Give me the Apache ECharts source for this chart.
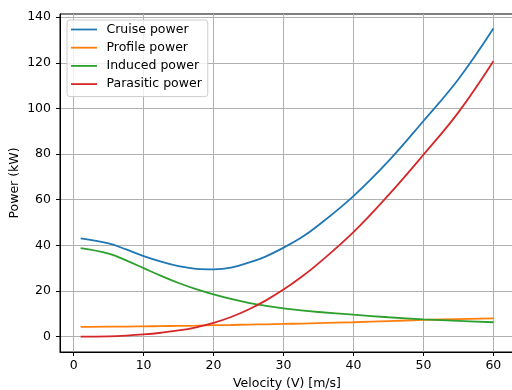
<!DOCTYPE html>
<html>
<head>
<meta charset="utf-8">
<script src="https://cdn.jsdelivr.net/npm/echarts@6/dist/echarts.min.js"></script>
<style>html,body{margin:0;padding:0;background:#fff}#c{width:512px;height:390px}</style>
</head>
<body>
<div id="c"></div>
<script>
const velocity = [1, 5, 7.5, 10, 12.5, 15, 17.5, 20, 22.5, 25, 27.5, 30, 32.5, 35, 40, 45, 50, 55, 60];
const cruisePower = [43.1, 40.9, 38.2, 35.3, 32.9, 30.9, 29.7, 29.5, 30.2, 32.4, 35.2, 39.0, 43.3, 48.8, 61.6, 76.9, 94.5, 112.8, 135.0];
const profilePower = [4.3, 4.4, 4.4, 4.5, 4.6, 4.7, 4.8, 5.0, 5.1, 5.3, 5.4, 5.6, 5.7, 5.9, 6.3, 6.8, 7.3, 7.7, 8.0];
const inducedPower = [38.8, 36.4, 33.4, 30.0, 26.6, 23.5, 20.8, 18.5, 16.5, 14.8, 13.5, 12.4, 11.5, 10.8, 9.6, 8.5, 7.6, 6.9, 6.3];
const parasiticPower = [0.0, 0.15, 0.45, 0.95, 1.7, 2.7, 4.1, 6.0, 8.6, 11.9, 15.9, 20.6, 26.0, 32.1, 45.8, 62.0, 79.7, 98.3, 120.7];
const xTicks = [0, 10, 20, 30, 40, 50, 60];
const yTicks = [0, 20, 40, 60, 80, 100, 120, 140];
const seriesNames = ['Cruise power', 'Profile power', 'Induced power', 'Parasitic power'];
const seriesColors = ['#1f77b4', '#ff7f0e', '#2ca02c', '#d62728'];
const seriesValues = [cruisePower, profilePower, inducedPower, parasiticPower];

const font = 'DejaVu Sans';
const fs = 12.5;
const chart = echarts.init(document.getElementById('c'), null, {renderer: 'canvas'});
chart.setOption({
  animation: false,
  textStyle: {fontFamily: font},
  grid: {left: 60, top: 14, width: 454, height: 338, outerBoundsMode: 'none', containLabel: false,
         show: true, borderColor: '#000', borderWidth: 1, backgroundColor: 'transparent'},
  legend: {
    left: 67, top: 20, orient: 'vertical',
    data: seriesNames,
    icon: 'path://M0,0 H26 V1.8 H0 Z',
    itemWidth: 26, itemHeight: 14, itemGap: 5.2,
    padding: [3, 6, 6, 4],
    backgroundColor: 'rgba(255,255,255,0.8)',
    borderColor: '#cccccc', borderWidth: 1, borderRadius: 3,
    textStyle: {fontFamily: font, fontSize: fs, color: '#000', padding: [0, 0, 0, 4.5]}
  },
  xAxis: {
    type: 'value', min: -1.95, max: 62.95,
    name: 'Velocity (V) [m/s]', nameLocation: 'middle', nameGap: 24,
    nameTextStyle: {fontFamily: font, fontSize: fs, color: '#000'},
    axisLine: {show: true, onZero: false, lineStyle: {color: '#000', width: 1}},
    axisTick: {show: true, length: 4, inside: false, customValues: xTicks, lineStyle: {color: '#000'}},
    axisLabel: {customValues: xTicks, fontFamily: font, fontSize: fs, color: '#000', margin: 7},
    splitLine: {show: true, lineStyle: {color: '#b0b0b0', width: 1}}
  },
  yAxis: {
    type: 'value', min: -6.74, max: 141.4,
    name: 'Power (kW)', nameLocation: 'middle', nameGap: 39, nameMoveOverlap: false,
    nameTextStyle: {fontFamily: font, fontSize: fs, color: '#000'},
    axisLine: {show: true, onZero: false, lineStyle: {color: '#000', width: 1}},
    axisTick: {show: true, length: 4, inside: false, customValues: yTicks, lineStyle: {color: '#000'}},
    axisLabel: {customValues: yTicks, fontFamily: font, fontSize: fs, color: '#000', margin: 9},
    splitLine: {show: true, lineStyle: {color: '#b0b0b0', width: 1}}
  },
  series: seriesNames.map((name, i) => ({
    name: name,
    type: 'line',
    data: velocity.map((v, j) => [v, seriesValues[i][j]]),
    smooth: 0.4,
    symbol: 'none',
    showSymbol: false,
    color: seriesColors[i],
    lineStyle: {color: seriesColors[i], width: 1.8}
  }))
});
</script>
</body>
</html>
